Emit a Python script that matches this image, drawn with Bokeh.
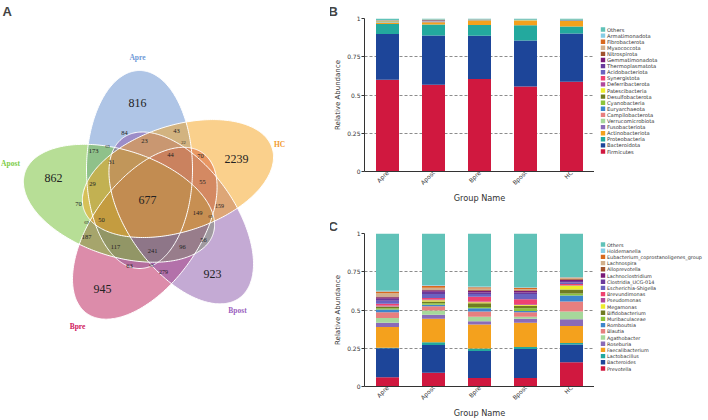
import math
import numpy as np
from bokeh.plotting import figure
from bokeh.models import (Range1d, FactorRange, FixedTicker, ColumnDataSource, GridBox)
from bokeh.embed import file_html
from bokeh.resources import INLINE
from bokeh.core.properties import value

# ---------------- Panel A: Venn data ----------------
venn_sets = ["Apre", "Apost", "Bpre", "Bpost", "HC"]
venn_fill = ["#5f8bcd", "#6fbd2d", "#b91955", "#8955a9", "#f5a119"]
venn_label_color = ["#6f9ad8", "#7dcc46", "#d02060", "#9b5fc0", "#f29a2e"]
venn_counts = [816, 862, 945, 923, 2239, 677,
               84, 43, 23, 22, 173, 69, 44, 70, 31, 29, 55, 70, 159, 149,
               69, 69, 50, 187, 117, 241, 96, 56, 63, 69, 279]

venn_count_x = [137, 53, 102, 212, 236, 147,
                124, 176, 144, 183, 93, 107, 170, 200, 111, 92, 202, 78, 219, 197,
                210, 86, 101, 86, 115, 152, 182, 203, 129, 151, 163]
venn_count_y = [102, 177, 288, 273, 158, 199,
                132, 130, 140, 142, 150, 146, 154, 155, 161, 183, 181, 203, 205, 212,
                216, 222, 219, 236, 246, 250, 246, 239, 265, 265, 271]
venn_count_size = ["12px"] * 6 + ["6.5px", "6.5px", "6.5px", "4.5px", "6.5px", "4.5px", "6.5px",
                                  "6.5px", "6.5px", "6.5px", "6.5px", "6.5px", "6px", "6.5px",
                                  "4.5px", "4.5px", "6.5px", "6.5px", "6.5px", "6.5px", "6.5px",
                                  "6.5px", "6.5px", "4.5px", "6px"]
venn_label_x = [137, 10, 77, 237, 279]
venn_label_y = [57, 163, 326, 310, 144]

# ---------------- Panels B / C: stacked bar data ----------------
groups = ["Apre", "Apost", "Bpre", "Bpost", "HC"]

phylum_names = ["Firmicutes", "Bacteroidota", "Proteobacteria", "Actinobacteriota",
                "Fusobacteriota", "Verrucomicrobiota", "Campilobacterota", "Euryarchaeota",
                "Cyanobacteria", "Desulfobacterota", "Patescibacteria", "Deferribacterota",
                "Synergistota", "Acidobacteriota", "Thermoplasmatota", "Gemmatimonadota",
                "Nitrospirota", "Myxococcota", "Fibrobacterota", "Armatimonadota", "Others"]
Firmicutes = [0.599, 0.567, 0.604, 0.556, 0.586]
Bacteroidota = [0.300, 0.322, 0.283, 0.300, 0.316]
Proteobacteria = [0.065, 0.072, 0.070, 0.100, 0.046]
Actinobacteriota = [0.006, 0.015, 0.028, 0.028, 0.035]
Fusobacteriota = [0.004, 0.002, 0.001, 0.001, 0.001]
Verrucomicrobiota = [0.003, 0.002, 0.001, 0.001, 0.001]
Campilobacterota = [0.003, 0.002, 0.001, 0.001, 0.001]
Euryarchaeota = [0.001, 0.001, 0.0005, 0.0005, 0.0005]
Cyanobacteria = [0.002, 0.001, 0.0005, 0.0005, 0.0005]
Desulfobacterota = [0.002, 0.003, 0.001, 0.001, 0.001]
Patescibacteria = [0.0005, 0.0005, 0.0005, 0.0005, 0.0005]
Deferribacterota = [0.0005, 0.0005, 0.0003, 0.0003, 0.0003]
Synergistota = [0.0005, 0.0005, 0.0003, 0.0003, 0.0003]
Acidobacteriota = [0.0003, 0.0003, 0.0003, 0.0003, 0.0003]
Thermoplasmatota = [0.0003, 0.0003, 0.0003, 0.0003, 0.0003]
Gemmatimonadota = [0.0003, 0.0003, 0.0003, 0.0003, 0.0003]
Nitrospirota = [0.0003, 0.0003, 0.0003, 0.0003, 0.0003]
Myxococcota = [0.001, 0.003, 0.0005, 0.0005, 0.0005]
Fibrobacterota = [0.0003, 0.0003, 0.0003, 0.0003, 0.0003]
Armatimonadota = [0.0003, 0.0003, 0.0003, 0.0003, 0.001]
Phylum_Others = [0.011, 0.007, 0.007, 0.008, 0.008]
phylum_values = [Firmicutes, Bacteroidota, Proteobacteria, Actinobacteriota, Fusobacteriota,
                 Verrucomicrobiota, Campilobacterota, Euryarchaeota, Cyanobacteria,
                 Desulfobacterota, Patescibacteria, Deferribacterota, Synergistota,
                 Acidobacteriota, Thermoplasmatota, Gemmatimonadota, Nitrospirota,
                 Myxococcota, Fibrobacterota, Armatimonadota, Phylum_Others]

genus_names = ["Prevotella", "Bacteroides", "Lactobacillus", "Faecalibacterium", "Roseburia",
               "Agathobacter", "Blautia", "Romboutsia", "Muribaculaceae", "Bifidobacterium",
               "Megamonas", "Pseudomonas", "Brevundimonas", "Escherichia-Shigella",
               "Clostridia_UCG-014", "Lachnoclostridium", "Alloprevotella", "Lachnospira",
               "Eubacterium_coprostanoligenes_group", "Holdemanella", "Others"]
Prevotella = [0.060, 0.090, 0.056, 0.056, 0.159]
Bacteroides = [0.190, 0.181, 0.176, 0.189, 0.116]
Lactobacillus = [0.003, 0.019, 0.017, 0.013, 0.009]
Faecalibacterium = [0.136, 0.153, 0.157, 0.159, 0.112]
Roseburia = [0.028, 0.026, 0.020, 0.026, 0.043]
Agathobacter = [0.030, 0.028, 0.030, 0.013, 0.052]
Blautia = [0.039, 0.028, 0.034, 0.030, 0.065]
Romboutsia = [0.017, 0.009, 0.021, 0.008, 0.039]
Muribaculaceae = [0.008, 0.010, 0.008, 0.017, 0.013]
Bifidobacterium = [0.010, 0.012, 0.025, 0.017, 0.026]
Megamonas = [0.002, 0.008, 0.006, 0.004, 0.026]
Pseudomonas = [0.006, 0.005, 0.006, 0.005, 0.004]
Brevundimonas = [0.012, 0.010, 0.030, 0.034, 0.006]
Escherichia_Shigella = [0.020, 0.025, 0.018, 0.034, 0.010]
Clostridia_UCG_014 = [0.012, 0.015, 0.010, 0.010, 0.010]
Lachnoclostridium = [0.010, 0.010, 0.012, 0.010, 0.008]
Alloprevotella = [0.006, 0.005, 0.005, 0.004, 0.004]
Lachnospira = [0.020, 0.012, 0.010, 0.006, 0.006]
Eubacterium_group = [0.012, 0.012, 0.008, 0.010, 0.004]
Holdemanella = [0.005, 0.005, 0.004, 0.004, 0.003]
Genus_Others = [0.374, 0.337, 0.347, 0.351, 0.285]
genus_values = [Prevotella, Bacteroides, Lactobacillus, Faecalibacterium, Roseburia,
                Agathobacter, Blautia, Romboutsia, Muribaculaceae, Bifidobacterium,
                Megamonas, Pseudomonas, Brevundimonas, Escherichia_Shigella,
                Clostridia_UCG_014, Lachnoclostridium, Alloprevotella, Lachnospira,
                Eubacterium_group, Holdemanella, Genus_Others]

palette = ["#d0183f", "#1d4599", "#23a99e", "#f4a11d", "#8a6bb8", "#a6d89b", "#e77f7f",
           "#3d86cc", "#8cc43a", "#6f7c22", "#eded2a", "#b0489c", "#ef4271", "#6a62c0",
           "#6a3a9c", "#7a1a78", "#a0522d", "#d2b08c", "#d8691e", "#86cde6", "#60c2b8"]

SANS = "DejaVu Sans"

# frame geometry (page pixels)
B_TOP, B_BOTTOM_BORDER = 18, 39
C_TOP, C_BOTTOM_BORDER = 23, 34
LEFT_BORDER = 34


def set_title(p, letter, offset):
    p.title.text = letter
    p.title.text_font = "Liberation Sans"
    p.title.text_font_size = "13px"
    p.title.text_font_style = "bold"
    p.title.align = "left"
    p.title.offset = offset
    p.title.standoff = 0


# ---------------- Panel A figure ----------------
venn = figure(width=330, height=420, x_range=Range1d(0, 330),
              y_range=Range1d(420 - C_BOTTOM_BORDER, B_TOP),
              x_axis_type=None, y_axis_type=None, output_backend="svg",
              toolbar_location=None, min_border_left=0, min_border_right=0,
              min_border_top=B_TOP, min_border_bottom=C_BOTTOM_BORDER)
venn.grid.visible = False
venn.outline_line_color = None
set_title(venn, "A", 2)

center_x, center_y = 152.0, 200.0
semi_minor, semi_major = 53.0, 99.0
off_x, off_y = -13.0, 31.0
t = np.linspace(0, 2 * np.pi, 300)
ell_xs, ell_ys = [], []
for k in range(5):
    th = math.radians(72 * k)
    ox = off_x * math.cos(th) - off_y * math.sin(th)
    oy = off_x * math.sin(th) + off_y * math.cos(th)
    phi = math.radians(90 + 72 * k)
    px = ox + semi_major * np.cos(t) * math.cos(phi) - semi_minor * np.sin(t) * math.sin(phi)
    py = oy + semi_major * np.cos(t) * math.sin(phi) + semi_minor * np.sin(t) * math.cos(phi)
    ell_xs.append(list(center_x + px))
    ell_ys.append(list(center_y - py))

draw_order = [0, 2, 1, 3, 4]   # Apre, Bpre, Apost, Bpost, HC
venn.patches(xs=[ell_xs[i] for i in draw_order], ys=[ell_ys[i] for i in draw_order],
             fill_color=[venn_fill[i] for i in draw_order], fill_alpha=0.5, line_color=None)
venn.patches(xs=ell_xs, ys=ell_ys, fill_color=None, line_color="white", line_width=1)

cnt_src = ColumnDataSource(dict(x=venn_count_x, y=venn_count_y,
                                text=[str(v) for v in venn_counts], size=venn_count_size))
venn.text(x="x", y="y", text="text", text_font_size="size", source=cnt_src,
          text_align="center", text_baseline="middle", text_color="#222222",
          text_font=value("Liberation Serif"))
lab_src = ColumnDataSource(dict(x=venn_label_x, y=venn_label_y, text=venn_sets, c=venn_label_color))
venn.text(x="x", y="y", text="text", text_color="c", source=lab_src, text_align="center",
          text_baseline="middle", text_font_size="7.5px", text_font_style="bold",
          text_font=value("Liberation Serif"))


# ---------------- Panels B / C ----------------
def bar_panel(letter, names, values, top, bottom, width):
    data = {"group": groups}
    for n, v in zip(names, values):
        data[n] = v
    src = ColumnDataSource(data)
    p = figure(width=width, height=210, x_range=FactorRange(*groups), y_range=Range1d(0, 1),
               output_backend="svg", toolbar_location=None,
               min_border_left=LEFT_BORDER, min_border_right=0, min_border_top=top,
               min_border_bottom=bottom)
    p.vbar_stack(names, x="group", width=0.5, color=palette[:len(names)],
                 line_color=None, source=src)
    p.outline_line_color = None
    p.xgrid.visible = False
    p.ygrid.ticker = FixedTicker(ticks=[0.25, 0.5, 0.75])
    p.ygrid.grid_line_dash = "3 2"
    p.ygrid.grid_line_color = "#8c8c8c"
    p.yaxis.ticker = FixedTicker(ticks=[0, 0.25, 0.5, 0.75, 1])
    p.yaxis.major_label_overrides = {0: "0", 0.25: "0.25", 0.5: "0.5", 0.75: "0.75", 1: "1"}
    p.yaxis.axis_label = "Relative Abundance"
    p.xaxis.axis_label = "Group Name"
    for ax in (p.xaxis, p.yaxis):
        ax.axis_line_color = "#333333"
        ax.major_tick_line_color = "#333333"
        ax.major_tick_in = 0
        ax.minor_tick_line_color = None
        ax.major_label_text_font = SANS
        ax.major_label_text_color = "#333333"
        ax.axis_label_text_font = SANS
        ax.axis_label_text_font_style = "normal"
        ax.axis_label_text_color = "#333333"
    p.yaxis.major_tick_out = 3
    p.yaxis.major_label_standoff = 1
    p.yaxis.axis_label_standoff = 2
    p.yaxis.major_label_text_font_size = "6px"
    p.yaxis.axis_label_text_font_size = "7px"
    p.xaxis.major_tick_out = 0
    p.xaxis.major_label_standoff = 0
    p.xaxis.axis_label_standoff = 1
    p.xaxis.major_label_text_font_size = "6px"
    p.xaxis.axis_label_text_font_size = "8.2px"
    p.xaxis.major_label_orientation = math.pi / 4
    p.xaxis.major_tick_line_color = None
    set_title(p, letter, -LEFT_BORDER - 2)
    return p


def legend_panel(names, width, top, bottom, sq_x, txt_x, y_first, y_step, font_size):
    lg = figure(width=width, height=210, x_range=Range1d(0, width),
                y_range=Range1d(210 - bottom, top),
                x_axis_type=None, y_axis_type=None, output_backend="svg",
                toolbar_location=None, min_border_left=0, min_border_right=0,
                min_border_top=top, min_border_bottom=bottom)
    lg.grid.visible = False
    lg.outline_line_color = None
    order = list(range(len(names)))[::-1]
    ys = [y_first + i * y_step for i in range(len(names))]
    src = ColumnDataSource(dict(y=ys, name=[names[i] for i in order],
                                color=[palette[i] for i in order]))
    lg.rect(x=sq_x, y="y", width=4.4, height=4.4, fill_color="color", line_color=None, source=src)
    lg.text(x=txt_x, y="y", text="name", source=src, text_font=value(SANS),
            text_font_size=font_size, text_baseline="middle", text_align="left",
            text_color="#333333")
    return lg


pb = bar_panel("B", phylum_names, phylum_values, B_TOP, B_BOTTOM_BORDER, 264)
pc = bar_panel("C", genus_names, genus_values, C_TOP, C_BOTTOM_BORDER, 264)
lb = legend_panel(phylum_names, 114, B_TOP, B_BOTTOM_BORDER, 8.5, 12.5, 29, 6.1, "5.2px")
lc = legend_panel(genus_names, 114, C_TOP, C_BOTTOM_BORDER, 8.5, 12.5, 34, 6.2, "4.9px")

layout = GridBox(children=[(venn, 0, 0, 2, 1), (pb, 0, 1), (lb, 0, 2), (pc, 1, 1), (lc, 1, 2)],
                 spacing=0)
open("out.html", "w").write(file_html(layout, INLINE))
